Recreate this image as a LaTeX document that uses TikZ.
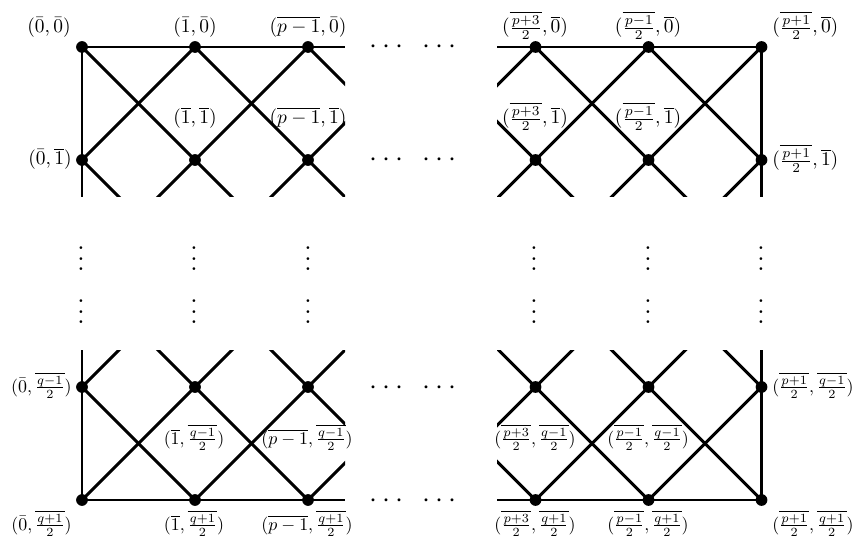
\documentclass[tikz,border=0pt]{standalone}
\usepackage{amsmath}
\begin{document}
\begin{tikzpicture}[x=0.478pt,y=-0.478pt,
  edge/.style={line width=1.4pt},
  vx/.style={circle,fill=black,inner sep=0pt,minimum size=5.6pt},
  lbl/.style={anchor=base,inner sep=0pt,scale=0.93},
  lblq/.style={lbl,scale=0.92},
  lble/.style={anchor=base east},
  lblw/.style={anchor=base west},
  hdots/.style={anchor=base,inner sep=0pt,scale=1.37},
  vdotsn/.style={anchor=base,inner sep=0pt,scale=1.26}]

\useasboundingbox (0,0) rectangle (857,543);

% lattice points of the four corner blocks (index 0..3 across, 0..2 down)
\foreach \c in {0,...,3} {
  \foreach \r in {0,1,2} {
    \coordinate (A\c\r) at (82+113*\c, 47+113*\r);
    \coordinate (B\c\r) at (422.5+113*\c, 47+113*\r);
    \coordinate (C\c\r) at (82+113*\c, 274+113*\r);
    \coordinate (D\c\r) at (422.5+113*\c, 274+113*\r);
  }
}

% free ends of the border lines
\coordinate (Ar) at (345,47);   \coordinate (Ab) at (82,197);
\coordinate (Bl) at (497,47);   \coordinate (Bb) at (761.5,197);
\coordinate (Ct) at (82,350);   \coordinate (Cr) at (345,500);
\coordinate (Dl) at (497,500);  \coordinate (Dt) at (761.5,350);

% diagonal crosses, cut off at the block edges
\foreach \blk/\clipbox in {A/{(60,25) rectangle (345,197)},
                           B/{(497,25) rectangle (800,197)},
                           C/{(60,350) rectangle (345,525)},
                           D/{(497,350) rectangle (800,525)}} {
  \begin{scope}
    \clip \clipbox;
    \foreach \c [evaluate=\c as \cn using int(\c+1)] in {0,1,2} {
      \foreach \r [evaluate=\r as \rn using int(\r+1)] in {0,1} {
        \draw[edge] (\blk\c\r) -- (\blk\cn\rn);
        \draw[edge] (\blk\cn\r) -- (\blk\c\rn);
      }
    }
  \end{scope}
}

% border lines
\draw[edge] (Ab) -- (A00) -- (Ar);
\draw[edge] (Bl) -- (B30) -- (Bb);
\draw[edge] (Ct) -- (C02) -- (Cr);
\draw[edge] (Dl) -- (D32) -- (Dt);

% vertices
\foreach \p in {A00,A10,A20,A01,A11,A21,
                B10,B20,B30,B11,B21,B31,
                C01,C11,C21,C02,C12,C22,
                D11,D21,D31,D12,D22,D32}
  \node[vx] (v\p) at (\p) {};

% horizontal ellipses
\foreach \y [count=\k] in {47,160,387,500} {
  \node[hdots] (hl\k) at (389,\y+7) {$\cdots$};
  \node[hdots] (hr\k) at (442,\y+7) {$\cdots$};
}

% vertical ellipses
\foreach \x [count=\k] in {81,194,308,534,648,761} {
  \node[vdotsn] (vu\k) at (\x,271) {$\vdots$};
  \node[vdotsn] (vd\k) at (\x,324) {$\vdots$};
}

% labels, first row
\node[lbl,lble] (l00) at (71,33) {$(\bar 0,\bar 0)$};
\node[lbl] (l10) at (195,33) {$(\bar 1,\bar 0)$};
\node[lbl] (l20) at (308,33) {$(\overline{p-1},\bar 0)$};
\node[lbl] (l30) at (535,33) {$(\overline{\frac{p+3}{2}},\overline{0})$};
\node[lbl] (l40) at (648,33) {$(\overline{\frac{p-1}{2}},\overline{0})$};
\node[lbl,lblw] (l50) at (772,33) {$(\overline{\frac{p+1}{2}},\overline{0})$};

% labels, second row
\node[lbl,lble] (l01) at (72,165) {$(\bar 0,\overline{1})$};
\node[lbl] (l11) at (195,124) {$(\overline{1},\overline{1})$};
\node[lbl] (l21) at (308,124) {$(\overline{p-1},\overline{1})$};
\node[lbl] (l31) at (535,124) {$(\overline{\frac{p+3}{2}},\overline{1})$};
\node[lbl] (l41) at (648,124) {$(\overline{\frac{p-1}{2}},\overline{1})$};
\node[lbl,lblw] (l51) at (772,166) {$(\overline{\frac{p+1}{2}},\overline{1})$};

% labels, third row
\node[lblq,lble] (l02) at (72,392) {$(\bar 0, \overline{\frac{q-1}{2}})$};
\node[lblq] (l12) at (194,444) {$(\overline{1}, \overline{\frac{q-1}{2}})$};
\node[lblq] (l22) at (307,444) {$(\overline{p-1}, \overline{\frac{q-1}{2}})$};
\node[lblq] (l32) at (535,444) {$(\overline{\frac{p+3}{2}}, \overline{\frac{q-1}{2}})$};
\node[lblq] (l42) at (648,444) {$(\overline{\frac{p-1}{2}}, \overline{\frac{q-1}{2}})$};
\node[lblq,lblw] (l52) at (772,392) {$(\overline{\frac{p+1}{2}}, \overline{\frac{q-1}{2}})$};

% labels, last row
\node[lblq,lble] (l03) at (72,530) {$(\bar 0, \overline{\frac{q+1}{2}})$};
\node[lblq] (l13) at (194,530) {$(\overline{1}, \overline{\frac{q+1}{2}})$};
\node[lblq] (l23) at (307,530) {$(\overline{p-1}, \overline{\frac{q+1}{2}})$};
\node[lblq] (l33) at (535,530) {$(\overline{\frac{p+3}{2}}, \overline{\frac{q+1}{2}})$};
\node[lblq] (l43) at (648,530) {$(\overline{\frac{p-1}{2}}, \overline{\frac{q+1}{2}})$};
\node[lblq,lblw] (l53) at (772,530) {$(\overline{\frac{p+1}{2}}, \overline{\frac{q+1}{2}})$};

\end{tikzpicture}
\end{document}
